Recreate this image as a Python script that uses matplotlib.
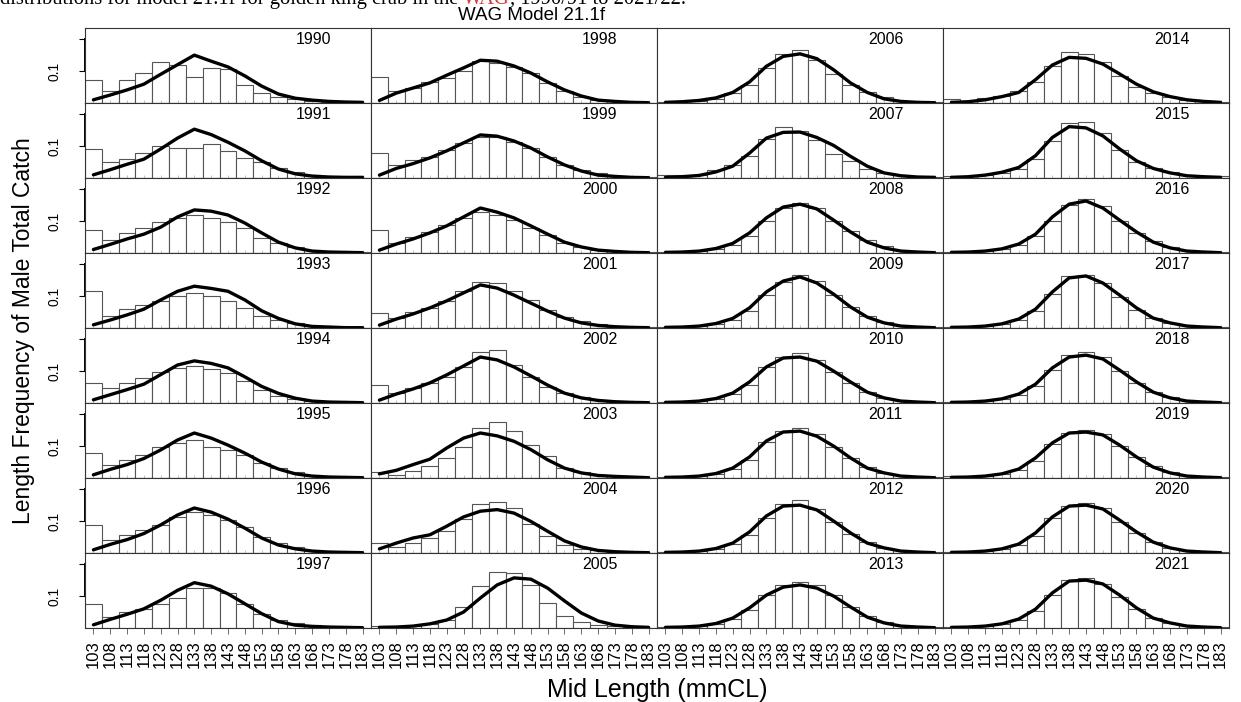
import matplotlib
matplotlib.use("Agg")
import matplotlib.pyplot as plt

plt.rcParams['font.family'] = ['Liberation Sans', 'DejaVu Sans']

# Mid length classes (mmCL)
lengths = [103, 108, 113, 118, 123, 128, 133, 138, 143, 148, 153, 158, 163, 168, 173, 178, 183]
years = list(range(1990, 2022))

# Observed proportions (bars), one row per year
obs = [
    [0.072, 0.037, 0.072, 0.094, 0.128, 0.119, 0.081, 0.110, 0.106, 0.056, 0.031, 0.018, 0.013, 0.006, 0.003, 0.002, 0.001],  # 1990
    [0.091, 0.049, 0.059, 0.078, 0.099, 0.094, 0.094, 0.106, 0.084, 0.063, 0.049, 0.030, 0.018, 0.010, 0.007, 0.002, 0.001],  # 1991
    [0.072, 0.041, 0.063, 0.078, 0.097, 0.110, 0.119, 0.110, 0.097, 0.078, 0.047, 0.031, 0.019, 0.009, 0.006, 0.003, 0.002],  # 1992
    [0.115, 0.038, 0.059, 0.072, 0.085, 0.101, 0.110, 0.101, 0.085, 0.062, 0.038, 0.026, 0.015, 0.007, 0.004, 0.002, 0.001],  # 1993
    [0.062, 0.047, 0.063, 0.078, 0.096, 0.110, 0.117, 0.106, 0.093, 0.070, 0.041, 0.021, 0.013, 0.007, 0.004, 0.002, 0.001],  # 1994
    [0.078, 0.041, 0.056, 0.072, 0.097, 0.110, 0.119, 0.097, 0.088, 0.072, 0.047, 0.031, 0.019, 0.009, 0.005, 0.002, 0.001],  # 1995
    [0.088, 0.041, 0.056, 0.072, 0.088, 0.113, 0.128, 0.119, 0.103, 0.081, 0.050, 0.031, 0.019, 0.009, 0.005, 0.002, 0.001],  # 1996
    [0.074, 0.034, 0.049, 0.059, 0.074, 0.095, 0.125, 0.125, 0.110, 0.076, 0.043, 0.026, 0.016, 0.008, 0.004, 0.002, 0.001],  # 1997
    [0.080, 0.037, 0.047, 0.065, 0.078, 0.101, 0.131, 0.125, 0.113, 0.094, 0.063, 0.038, 0.019, 0.009, 0.005, 0.002, 0.001],  # 1998
    [0.078, 0.041, 0.056, 0.066, 0.088, 0.110, 0.128, 0.128, 0.113, 0.094, 0.066, 0.041, 0.025, 0.016, 0.006, 0.003, 0.002],  # 1999
    [0.072, 0.031, 0.050, 0.066, 0.088, 0.110, 0.128, 0.119, 0.103, 0.078, 0.056, 0.031, 0.019, 0.009, 0.006, 0.003, 0.002],  # 2000
    [0.047, 0.031, 0.050, 0.063, 0.085, 0.116, 0.144, 0.141, 0.116, 0.088, 0.056, 0.034, 0.022, 0.013, 0.006, 0.003, 0.002],  # 2001
    [0.056, 0.031, 0.047, 0.063, 0.081, 0.113, 0.160, 0.166, 0.119, 0.081, 0.050, 0.031, 0.019, 0.009, 0.005, 0.002, 0.001],  # 2002
    [0.018, 0.010, 0.021, 0.037, 0.063, 0.097, 0.157, 0.175, 0.146, 0.103, 0.068, 0.031, 0.018, 0.010, 0.005, 0.002, 0.001],  # 2003
    [0.031, 0.019, 0.031, 0.047, 0.068, 0.106, 0.154, 0.160, 0.141, 0.092, 0.052, 0.026, 0.013, 0.008, 0.004, 0.002, 0.001],  # 2004
    [0.005, 0.003, 0.006, 0.013, 0.025, 0.066, 0.131, 0.175, 0.172, 0.135, 0.078, 0.038, 0.019, 0.009, 0.005, 0.002, 0.001],  # 2005
    [0.002, 0.005, 0.007, 0.013, 0.031, 0.057, 0.110, 0.154, 0.165, 0.136, 0.092, 0.057, 0.034, 0.018, 0.007, 0.004, 0.002],  # 2006
    [0.010, 0.008, 0.010, 0.026, 0.042, 0.070, 0.123, 0.159, 0.146, 0.118, 0.076, 0.052, 0.029, 0.016, 0.008, 0.005, 0.003],  # 2007
    [0.002, 0.003, 0.006, 0.013, 0.025, 0.053, 0.100, 0.141, 0.157, 0.141, 0.100, 0.069, 0.041, 0.022, 0.009, 0.005, 0.002],  # 2008
    [0.002, 0.003, 0.006, 0.011, 0.025, 0.053, 0.103, 0.144, 0.166, 0.147, 0.103, 0.066, 0.038, 0.019, 0.009, 0.005, 0.002],  # 2009
    [0.002, 0.003, 0.006, 0.013, 0.028, 0.056, 0.113, 0.144, 0.157, 0.135, 0.097, 0.063, 0.034, 0.016, 0.008, 0.004, 0.002],  # 2010
    [0.003, 0.003, 0.006, 0.013, 0.028, 0.056, 0.113, 0.147, 0.157, 0.138, 0.097, 0.063, 0.034, 0.016, 0.008, 0.004, 0.002],  # 2011
    [0.002, 0.003, 0.006, 0.013, 0.028, 0.056, 0.110, 0.153, 0.166, 0.138, 0.097, 0.059, 0.034, 0.016, 0.008, 0.004, 0.002],  # 2012
    [0.002, 0.003, 0.006, 0.013, 0.028, 0.056, 0.103, 0.135, 0.144, 0.135, 0.103, 0.066, 0.038, 0.019, 0.009, 0.005, 0.002],  # 2013
    [0.013, 0.007, 0.016, 0.023, 0.038, 0.067, 0.117, 0.161, 0.153, 0.129, 0.084, 0.051, 0.031, 0.018, 0.010, 0.006, 0.004],  # 2014
    [0.007, 0.005, 0.009, 0.016, 0.028, 0.059, 0.117, 0.172, 0.176, 0.141, 0.089, 0.049, 0.030, 0.018, 0.010, 0.007, 0.005],  # 2015
    [0.002, 0.003, 0.006, 0.013, 0.025, 0.053, 0.100, 0.150, 0.169, 0.147, 0.100, 0.063, 0.038, 0.019, 0.009, 0.005, 0.002],  # 2016
    [0.002, 0.003, 0.006, 0.013, 0.025, 0.053, 0.106, 0.163, 0.166, 0.141, 0.097, 0.056, 0.031, 0.016, 0.009, 0.005, 0.002],  # 2017
    [0.002, 0.003, 0.006, 0.013, 0.025, 0.053, 0.103, 0.150, 0.160, 0.144, 0.100, 0.063, 0.034, 0.019, 0.009, 0.005, 0.002],  # 2018
    [0.005, 0.003, 0.006, 0.013, 0.025, 0.053, 0.106, 0.141, 0.150, 0.138, 0.100, 0.066, 0.038, 0.019, 0.009, 0.005, 0.002],  # 2019
    [0.002, 0.003, 0.006, 0.013, 0.025, 0.053, 0.110, 0.147, 0.157, 0.141, 0.097, 0.063, 0.034, 0.016, 0.009, 0.005, 0.002],  # 2020
    [0.002, 0.003, 0.006, 0.013, 0.025, 0.053, 0.103, 0.150, 0.157, 0.138, 0.097, 0.059, 0.031, 0.016, 0.008, 0.004, 0.002],  # 2021
]

# Model predicted proportions (line)
pred = [
    [0.010, 0.025, 0.041, 0.059, 0.090, 0.120, 0.150, 0.131, 0.113, 0.085, 0.053, 0.028, 0.015, 0.009, 0.005, 0.003, 0.002],  # 1990
    [0.010, 0.026, 0.043, 0.059, 0.091, 0.125, 0.153, 0.136, 0.112, 0.085, 0.054, 0.028, 0.013, 0.006, 0.003, 0.002, 0.002],  # 1991
    [0.011, 0.027, 0.044, 0.059, 0.081, 0.113, 0.135, 0.131, 0.119, 0.094, 0.063, 0.034, 0.016, 0.006, 0.003, 0.002, 0.001],  # 1992
    [0.010, 0.025, 0.041, 0.059, 0.088, 0.115, 0.131, 0.124, 0.115, 0.088, 0.054, 0.030, 0.013, 0.005, 0.003, 0.001, 0.001],  # 1993
    [0.010, 0.026, 0.042, 0.059, 0.089, 0.119, 0.132, 0.124, 0.110, 0.082, 0.052, 0.030, 0.015, 0.006, 0.003, 0.002, 0.001],  # 1994
    [0.010, 0.027, 0.042, 0.061, 0.088, 0.119, 0.141, 0.125, 0.103, 0.078, 0.050, 0.028, 0.013, 0.006, 0.003, 0.002, 0.001],  # 1995
    [0.010, 0.027, 0.042, 0.061, 0.088, 0.119, 0.141, 0.128, 0.106, 0.078, 0.047, 0.025, 0.013, 0.006, 0.003, 0.002, 0.001],  # 1996
    [0.010, 0.027, 0.043, 0.060, 0.087, 0.118, 0.142, 0.131, 0.107, 0.076, 0.045, 0.020, 0.009, 0.005, 0.003, 0.002, 0.001],  # 1997
    [0.008, 0.031, 0.047, 0.063, 0.087, 0.110, 0.134, 0.131, 0.116, 0.094, 0.066, 0.041, 0.022, 0.009, 0.005, 0.002, 0.001],  # 1998
    [0.009, 0.030, 0.045, 0.063, 0.085, 0.110, 0.135, 0.131, 0.116, 0.094, 0.066, 0.041, 0.022, 0.009, 0.005, 0.002, 0.001],  # 1999
    [0.009, 0.028, 0.044, 0.063, 0.085, 0.113, 0.141, 0.128, 0.110, 0.085, 0.059, 0.034, 0.019, 0.009, 0.005, 0.002, 0.001],  # 2000
    [0.009, 0.028, 0.044, 0.063, 0.085, 0.110, 0.135, 0.125, 0.103, 0.078, 0.053, 0.031, 0.016, 0.008, 0.004, 0.002, 0.001],  # 2001
    [0.009, 0.028, 0.044, 0.063, 0.088, 0.116, 0.144, 0.135, 0.113, 0.085, 0.056, 0.031, 0.016, 0.008, 0.004, 0.002, 0.001],  # 2002
    [0.013, 0.024, 0.042, 0.059, 0.094, 0.125, 0.141, 0.132, 0.115, 0.089, 0.057, 0.031, 0.016, 0.008, 0.005, 0.003, 0.001],  # 2003
    [0.013, 0.031, 0.047, 0.057, 0.084, 0.113, 0.131, 0.136, 0.125, 0.099, 0.068, 0.038, 0.019, 0.008, 0.004, 0.002, 0.001],  # 2004
    [0.002, 0.003, 0.006, 0.013, 0.025, 0.050, 0.094, 0.135, 0.157, 0.153, 0.125, 0.085, 0.047, 0.022, 0.009, 0.004, 0.002],  # 2005
    [0.002, 0.004, 0.008, 0.016, 0.033, 0.066, 0.115, 0.146, 0.154, 0.139, 0.104, 0.063, 0.033, 0.013, 0.005, 0.002, 0.001],  # 2006
    [0.002, 0.004, 0.008, 0.019, 0.037, 0.078, 0.125, 0.143, 0.144, 0.127, 0.102, 0.068, 0.037, 0.016, 0.007, 0.003, 0.002],  # 2007
    [0.002, 0.003, 0.006, 0.014, 0.030, 0.063, 0.110, 0.144, 0.153, 0.138, 0.103, 0.066, 0.034, 0.016, 0.006, 0.003, 0.001],  # 2008
    [0.002, 0.003, 0.006, 0.014, 0.030, 0.063, 0.113, 0.147, 0.160, 0.141, 0.106, 0.066, 0.034, 0.016, 0.006, 0.003, 0.001],  # 2009
    [0.002, 0.003, 0.006, 0.014, 0.031, 0.066, 0.113, 0.141, 0.144, 0.131, 0.100, 0.066, 0.034, 0.016, 0.006, 0.003, 0.001],  # 2010
    [0.002, 0.003, 0.006, 0.014, 0.031, 0.066, 0.116, 0.144, 0.147, 0.131, 0.100, 0.063, 0.031, 0.016, 0.006, 0.003, 0.001],  # 2011
    [0.002, 0.003, 0.006, 0.014, 0.031, 0.066, 0.116, 0.147, 0.150, 0.135, 0.100, 0.063, 0.031, 0.016, 0.006, 0.003, 0.001],  # 2012
    [0.002, 0.003, 0.006, 0.014, 0.031, 0.063, 0.103, 0.128, 0.135, 0.125, 0.100, 0.066, 0.034, 0.016, 0.006, 0.003, 0.001],  # 2013
    [0.002, 0.004, 0.010, 0.020, 0.033, 0.073, 0.119, 0.143, 0.140, 0.122, 0.091, 0.059, 0.035, 0.020, 0.010, 0.005, 0.002],  # 2014
    [0.002, 0.004, 0.009, 0.018, 0.033, 0.070, 0.127, 0.161, 0.157, 0.132, 0.091, 0.054, 0.030, 0.016, 0.007, 0.004, 0.002],  # 2015
    [0.002, 0.003, 0.006, 0.013, 0.028, 0.059, 0.113, 0.153, 0.163, 0.141, 0.103, 0.066, 0.034, 0.016, 0.006, 0.003, 0.001],  # 2016
    [0.002, 0.003, 0.006, 0.013, 0.028, 0.059, 0.113, 0.157, 0.163, 0.141, 0.103, 0.063, 0.031, 0.016, 0.006, 0.003, 0.001],  # 2017
    [0.002, 0.003, 0.006, 0.013, 0.028, 0.059, 0.110, 0.144, 0.150, 0.138, 0.103, 0.066, 0.034, 0.016, 0.006, 0.003, 0.001],  # 2018
    [0.002, 0.003, 0.006, 0.013, 0.028, 0.063, 0.110, 0.141, 0.144, 0.135, 0.103, 0.066, 0.034, 0.016, 0.006, 0.003, 0.001],  # 2019
    [0.002, 0.003, 0.006, 0.013, 0.028, 0.063, 0.113, 0.147, 0.150, 0.138, 0.103, 0.066, 0.034, 0.016, 0.006, 0.003, 0.001],  # 2020
    [0.002, 0.003, 0.006, 0.013, 0.028, 0.059, 0.110, 0.147, 0.150, 0.138, 0.103, 0.063, 0.031, 0.016, 0.006, 0.003, 0.001],  # 2021
]

fig = plt.figure(figsize=(12.41, 7.02), dpi=100)

# grid of panels: 8 rows x 4 columns, no gaps
left, right = 85 / 1241, 1229 / 1241
top, bottom = 1 - 28 / 702, 1 - 628 / 702
nrow, ncol = 8, 4
w = (right - left) / ncol
h = (top - bottom) / nrow

for k, yr in enumerate(years):
    c, r = divmod(k, nrow)
    ax = fig.add_axes([left + c * w, top - (r + 1) * h, w, h])
    ax.bar(lengths, obs[k], width=5, color="white", edgecolor="#555555", linewidth=0.8)
    ax.plot(lengths, pred[k], color="black", lw=2.4, solid_capstyle="round")
    ax.set_xlim(100.5, 185.5)
    ax.set_ylim(0, 0.235)
    for s in ax.spines.values():
        s.set_color("#333333")
        s.set_linewidth(0.8)
    ax.text(0.80, 0.85, str(yr), transform=ax.transAxes, ha="center", va="center", fontsize=11.5)

    ax.set_xticks(lengths)
    if r == nrow - 1:
        ax.set_xticklabels([str(v) for v in lengths], rotation=90, fontsize=12)
        ax.tick_params(axis="x", direction="out", length=4, width=0.6, color="#555555", pad=5)
    else:
        ax.tick_params(axis="x", direction="in", length=2.5, width=0.5, color="#aaaaaa", labelbottom=False)

    if c == 0:
        ax.set_yticks([0.1, 0.2])
        ax.set_yticklabels(["0.1", ""], rotation=90, va="center", fontsize=10)
        ax.tick_params(axis="y", direction="out", length=4, width=0.8, pad=13)
        ax.plot([100.5, 100.5], [0.1, 0.2], color="black", lw=1.4, clip_on=False)
    else:
        ax.set_yticks([])

fig.text(24 / 1241, 0.5 * (top + bottom) - 3 / 702, "Length Frequency of Male Total Catch",
         rotation=90, ha="center", va="center", fontsize=16.5)
fig.text(0.5 * (left + right), 1 - 690 / 702, "Mid Length (mmCL)", ha="center", va="center", fontsize=18)
fig.text(532 / 1241, 1 - 15 / 702, "WAG Model 21.1f", ha="center", va="center", fontsize=13.5)

# caption line cut off at the top of the image
cap_kw = dict(fontsize=14.8, family="Liberation Serif", va="baseline")
y_cap = 1 - 4 / 702
part1 = "distributions for model 21.1f for golden king crab in the"
renderer = fig.canvas.get_renderer()
tmp = fig.text(0, y_cap, part1 + " WAG", **cap_kw)
x_end = tmp.get_window_extent(renderer).x1 / fig.bbox.width
tmp.remove()
fig.text(0, y_cap, part1, **cap_kw)
fig.text(x_end, y_cap, "WAG", color="#ee3030", ha="right", **cap_kw)
fig.text(x_end, y_cap, ", 1990/91 to 2021/22.", **cap_kw)

fig.savefig("out.png", dpi=100)
